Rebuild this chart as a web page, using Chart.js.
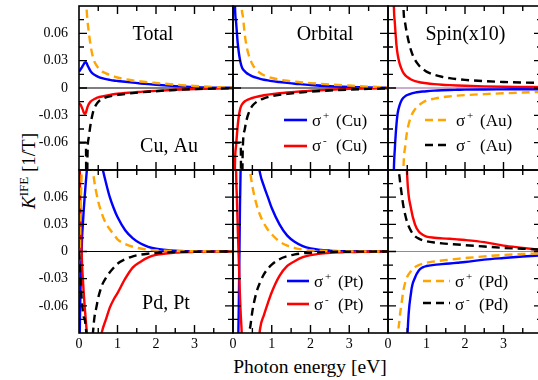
<!DOCTYPE html>
<html><head><meta charset="utf-8">
<script src="https://cdn.jsdelivr.net/npm/chart.js@4.4.1/dist/chart.umd.min.js"></script>
<style>
html,body{margin:0;padding:0;background:#fff;}
body{width:538px;height:380px;overflow:hidden;position:relative;font-family:'Liberation Serif','Times New Roman',serif;color:#000;}
canvas{position:absolute;}
#ytitle{position:absolute;left:19px;top:209px;transform-origin:0 0;transform:rotate(-90deg);white-space:nowrap;font-size:19px;line-height:19px;}
#ytitle .sup{font-size:13px;position:relative;top:-7px;}
#xtitle{position:absolute;left:210px;width:200px;top:357px;text-align:center;font-size:19.5px;line-height:19.5px;white-space:nowrap;}
</style></head>
<body>
<div id="ytitle"><i>K</i><span class="sup">IFE</span> [1/T]</div>
<div id="xtitle">Photon energy [eV]</div>
<script>
// ---------------- data ----------------
const energy = [0, 0.02, 0.05, 0.08, 0.1, 0.12, 0.15, 0.18, 0.2, 0.22, 0.25, 0.3, 0.35, 0.4, 0.45, 0.5, 0.6, 0.7, 0.8, 0.9, 1.0, 1.2, 1.4, 1.6, 1.8, 2.0, 2.5, 3.0, 3.5, 4.0];
const xTickValues = [0, 1, 2, 3];
const yTickValues = [-0.06, -0.03, 0, 0.03, 0.06];
const panelTitles = ['Total', 'Orbital', 'Spin(x10)'];
const rowLabels = ['Cu, Au', 'Pd, Pt'];
const legendMetals = [['', 'Cu', 'Au'], ['', 'Pt', 'Pd']];

// Top row: Cu (solid) and Au (dashed)
const totCuPlus  = [0.018,0.019,0.021,0.023,0.0245,0.026,0.0278,0.0283,0.027,0.025,0.0225,0.0185,0.016,0.0145,0.0133,0.0123,0.0108,0.0097,0.0089,0.0082,0.0077,0.0068,0.0059,0.005,0.0042,0.0035,0.002,0.0009,0.0004,0.0002];
const totCuMinus = [-0.0165,-0.0175,-0.019,-0.022,-0.024,-0.0265,-0.0284,-0.027,-0.024,-0.021,-0.018,-0.015,-0.0133,-0.012,-0.011,-0.0103,-0.0093,-0.0083,-0.0075,-0.0068,-0.0063,-0.0055,-0.0048,-0.0042,-0.0036,-0.0031,-0.002,-0.0011,-0.0005,-0.0002];
const totAuPlus  = [null,null,null,null,null,null,0.2,0.105,0.085,0.074,0.063,0.047,0.036,0.029,0.025,0.022,0.018,0.016,0.0143,0.0128,0.0115,0.0096,0.0083,0.0072,0.0063,0.0055,0.0037,0.0022,0.0011,0.0005];
const totAuMinus = [-0.06,-0.06,-0.06,-0.06,-0.06,-0.06,-0.06,-0.06,-0.2,-0.075,-0.055,-0.04,-0.029,-0.022,-0.018,-0.0152,-0.0122,-0.0104,-0.0092,-0.0083,-0.0076,-0.0065,-0.0056,-0.0048,-0.0041,-0.0035,-0.0022,-0.0012,-0.0006,-0.0003];

const orbCuPlus  = [null,0.2,0.092,0.072,0.061,0.05,0.039,0.031,0.027,0.024,0.021,0.0185,0.0165,0.015,0.0138,0.0128,0.0113,0.0101,0.0091,0.0083,0.0076,0.0066,0.0056,0.0047,0.004,0.0033,0.002,0.0011,0.0006,0.0003];
const orbCuMinus = [null,-0.2,-0.085,-0.063,-0.052,-0.042,-0.031,-0.024,-0.021,-0.019,-0.017,-0.0148,-0.0135,-0.0125,-0.0117,-0.011,-0.0098,-0.0088,-0.008,-0.0073,-0.0067,-0.0057,-0.0049,-0.0042,-0.0036,-0.003,-0.0019,-0.001,-0.0005,-0.0002];
const orbAuPlus  = [null,null,null,null,null,null,null,null,0.2,0.095,0.08,0.06,0.046,0.037,0.031,0.026,0.02,0.0165,0.014,0.0123,0.011,0.0092,0.0079,0.0069,0.0061,0.0054,0.0039,0.0027,0.0015,0.0007];
const orbAuMinus = [-0.06,-0.06,-0.06,-0.06,-0.06,-0.06,-0.06,-0.06,-0.06,-0.2,-0.07,-0.046,-0.035,-0.028,-0.023,-0.0195,-0.0155,-0.013,-0.0113,-0.01,-0.009,-0.0075,-0.0064,-0.0055,-0.0047,-0.004,-0.0027,-0.0017,-0.001,-0.0005];

const spinCuPlus  = [null,null,null,null,null,-0.2,-0.095,-0.065,-0.051,-0.04,-0.028,-0.019,-0.0138,-0.0108,-0.0089,-0.0077,-0.0061,-0.0051,-0.0044,-0.0039,-0.0035,-0.0029,-0.0025,-0.0022,-0.002,-0.0018,-0.0016,-0.0015,-0.0014,-0.0013];
const spinCuMinus = [null,null,null,null,null,0.2,0.095,0.07,0.058,0.047,0.037,0.027,0.021,0.0165,0.0138,0.012,0.0093,0.0076,0.0066,0.0058,0.0052,0.0043,0.0036,0.0031,0.0027,0.0024,0.0018,0.0014,0.0012,0.001];
const spinAuPlus  = [null,null,null,null,null,null,null,null,null,null,null,null,-0.2,-0.09,-0.063,-0.047,-0.031,-0.0235,-0.019,-0.016,-0.0138,-0.0117,-0.0102,-0.0092,-0.0084,-0.0078,-0.0067,-0.0058,-0.005,-0.0043];
const spinAuMinus = [null,null,null,null,null,null,null,null,null,null,null,null,0.2,0.09,0.07,0.058,0.041,0.031,0.025,0.021,0.018,0.0145,0.0123,0.0108,0.0097,0.0089,0.0075,0.0066,0.006,0.0055];

// Bottom row: Pt (solid) and Pd (dashed)
const totPtPlus  = [-0.2,-0.09,-0.025,0.015,0.03,0.044,0.062,0.078,0.088,0.097,0.11,0.125,0.133,0.135,0.128,0.117,0.094,0.076,0.06,0.048,0.038,0.0235,0.0145,0.0088,0.0052,0.003,0.0009,0.0003,0.0001,0];
const totPtMinus = [0.2,0.09,0.025,-0.015,-0.03,-0.044,-0.062,-0.078,-0.088,-0.097,-0.105,-0.118,-0.126,-0.128,-0.122,-0.11,-0.088,-0.075,-0.062,-0.053,-0.046,-0.03,-0.0175,-0.0112,-0.0065,-0.0038,-0.0012,-0.0004,-0.0001,0];
const totPdPlus  = [-0.01,0.005,0.06,0.1,0.12,0.135,0.15,0.16,0.165,0.165,0.16,0.135,0.095,0.077,0.065,0.055,0.041,0.031,0.0245,0.019,0.0135,0.0082,0.0052,0.0033,0.0021,0.0014,0.0006,0.0003,0.0002,0.0001];
const totPdMinus = [0,-0.015,-0.04,-0.058,-0.066,-0.072,-0.075,-0.085,-0.095,-0.1,-0.108,-0.11,-0.095,-0.073,-0.062,-0.051,-0.037,-0.029,-0.023,-0.018,-0.0135,-0.0085,-0.0053,-0.0035,-0.0024,-0.0016,-0.0006,-0.0003,-0.0001,0];

const orbPtPlus  = [null,null,null,null,-0.25,-0.14,-0.06,0.05,0.1,0.2,0.25,0.25,0.24,0.22,0.19,0.16,0.115,0.086,0.072,0.06,0.048,0.03,0.0175,0.0105,0.006,0.0035,0.001,0.0003,0.0001,0];
const orbPtMinus = [null,null,0.25,0.09,0.06,0.03,-0.01,-0.05,-0.07,-0.085,-0.12,-0.2,-0.22,-0.22,-0.2,-0.18,-0.13,-0.085,-0.07,-0.057,-0.045,-0.027,-0.016,-0.0105,-0.0063,-0.004,-0.0015,-0.0006,-0.0002,0];
const orbPdPlus  = [null,null,null,null,null,null,null,null,null,null,null,null,0.2,0.1,0.085,0.072,0.053,0.04,0.031,0.024,0.019,0.011,0.0065,0.0038,0.0022,0.0013,0.0005,0.0002,0.0001,0];
const orbPdMinus = [null,null,null,null,null,null,null,null,null,null,null,null,-0.2,-0.1,-0.082,-0.066,-0.046,-0.034,-0.025,-0.019,-0.0145,-0.0085,-0.0052,-0.0032,-0.002,-0.0013,-0.0005,-0.0002,-0.0001,0];

const spinPtPlus  = [null,null,null,null,null,null,null,null,null,null,null,null,null,null,-0.2,-0.1,-0.045,-0.029,-0.021,-0.0175,-0.016,-0.0148,-0.014,-0.0132,-0.0124,-0.0116,-0.009,-0.0072,-0.0056,-0.0042];
const spinPtMinus = [null,null,null,null,null,null,null,null,null,null,null,null,null,null,0.15,0.082,0.047,0.03,0.022,0.0185,0.0165,0.0152,0.0145,0.014,0.0134,0.0127,0.0103,0.0065,0.004,0.0015];
const spinPdPlus  = [null,null,null,null,null,null,null,null,null,-0.2,-0.11,-0.075,-0.058,-0.043,-0.034,-0.028,-0.0215,-0.0172,-0.015,-0.0135,-0.0124,-0.011,-0.0099,-0.009,-0.0081,-0.0073,-0.0054,-0.0038,-0.0027,-0.0019];
const spinPdMinus = [null,null,null,null,null,null,null,null,null,0.2,0.11,0.082,0.065,0.05,0.04,0.032,0.0225,0.017,0.0142,0.0125,0.0113,0.0099,0.009,0.0083,0.0077,0.007,0.0055,0.004,0.003,0.002];

// --------------- styling / layout ---------------
const BLUE = '#0000ff', RED = '#ff0000', ORANGE = '#ffa500', BLACK = '#000000';
const FONT = "'Liberation Serif', 'Times New Roman', serif";
const COL_LEFT = [79, 233, 388];
const COL_W = [154, 155, 154];
const ROW_TOP = [6, 170];
const ROW_H = [164, 163];
const YW = 79, PT = 8, PR = 8, XH = 40;

const grid = [
  [[totCuPlus, totCuMinus, totAuPlus, totAuMinus], [orbCuPlus, orbCuMinus, orbAuPlus, orbAuMinus], [spinCuPlus, spinCuMinus, spinAuPlus, spinAuMinus]],
  [[totPtPlus, totPtMinus, totPdPlus, totPdMinus], [orbPtPlus, orbPtMinus, orbPdPlus, orbPdMinus], [spinPtPlus, spinPtMinus, spinPdPlus, spinPdMinus]]
];
const styles = [
  {color: BLUE, dash: []}, {color: RED, dash: []},
  {color: ORANGE, dash: [8, 5]}, {color: BLACK, dash: [8, 5]}
];

// legend placement (relative to chart area)
const legendPos = {
  '0,1': {x0: 51, x1: 74, tx: 79, ly: [114, 140], by: [120, 145], items: [0, 1]},
  '0,2': {x0: 37, x1: 63, tx: 68, ly: [114, 139], by: [120, 145], items: [2, 3]},
  '1,1': {x0: 54, x1: 76, tx: 81, ly: [111, 134], by: [117, 140], items: [0, 1]},
  '1,2': {x0: 35, x1: 62, tx: 67, ly: [111, 133], by: [117, 140], items: [2, 3]}
};
const labelPos = {
  '0,0': [{text: panelTitles[0], x: 74, y: 34}, {text: rowLabels[0], x: 90, y: 146}],
  '0,1': [{text: panelTitles[1], x: 92, y: 34}],
  '0,2': [{text: panelTitles[2], x: 77.5, y: 34}],
  '1,0': [{text: rowLabels[1], x: 87, y: 139}]
};

const framePlugin = {
  id: 'frame',
  beforeDatasetsDraw(chart, args, o) {
    const {ctx, chartArea: a} = chart;
    const y = chart.scales.y;
    ctx.save();
    ctx.strokeStyle = o.zeroColor; ctx.lineWidth = o.zeroWidth;
    const y0 = y.getPixelForValue(0);
    ctx.beginPath(); ctx.moveTo(a.left, y0); ctx.lineTo(a.right, y0); ctx.stroke();
    ctx.restore();
  },
  afterDatasetsDraw(chart, args, o) {
    const {ctx, chartArea: a} = chart;
    const xs = chart.scales.x, ys = chart.scales.y;
    ctx.save();
    ctx.strokeStyle = '#000'; ctx.lineWidth = 1.4; ctx.setLineDash([]);
    ctx.beginPath();
    for (let i = 1; i < 8; i++) {
      const px = xs.getPixelForValue(i * 0.5);
      const len = i % 2 === 0 ? 8 : 5;
      ctx.moveTo(px, a.bottom); ctx.lineTo(px, a.bottom - len);
      ctx.moveTo(px, a.top); ctx.lineTo(px, a.top + len);
    }
    for (let i = -5; i <= 5; i++) {
      const py = ys.getPixelForValue(i * 0.015);
      const len = i % 2 === 0 ? 8 : 5;
      ctx.moveTo(a.left, py); ctx.lineTo(a.left + len, py);
      ctx.moveTo(a.right, py); ctx.lineTo(a.right - len, py);
    }
    ctx.stroke();
    ctx.lineWidth = 1.6;
    ctx.strokeRect(a.left, a.top, a.right - a.left, a.bottom - a.top);

    // texts
    ctx.fillStyle = '#000';
    ctx.textBaseline = 'alphabetic';
    ctx.textAlign = 'center';
    ctx.font = '20px ' + FONT;
    (o.labels || []).forEach(l => ctx.fillText(l.text, a.left + l.x, a.top + l.y));

    const lg = o.legend;
    if (lg) {
      lg.items.forEach((si, k) => {
        const st = styles[si];
        ctx.strokeStyle = st.color; ctx.lineWidth = 2.6; ctx.setLineDash(st.dash);
        ctx.beginPath();
        ctx.moveTo(a.left + lg.x0, a.top + lg.ly[k]);
        ctx.lineTo(a.left + lg.x1, a.top + lg.ly[k]);
        ctx.stroke();
        ctx.setLineDash([]);
        ctx.textAlign = 'left';
        const tx = a.left + lg.tx, ty = a.top + lg.by[k];
        ctx.font = '17px ' + FONT;
        ctx.fillText('\u03C3', tx, ty);
        ctx.font = '11px ' + FONT;
        ctx.fillText(si % 2 === 0 ? '+' : '-', tx + 11, ty - 7);
        ctx.font = '17px ' + FONT;
        ctx.fillText('(' + o.metal + ')', tx + 24, ty);
      });
    }
    ctx.restore();
  }
};

function makePanel(r, c) {
  const cv = document.createElement('canvas');
  const W = YW + COL_W[c] + PR, H = PT + ROW_H[r] + XH;
  cv.width = W; cv.height = H;
  cv.style.width = W + 'px'; cv.style.height = H + 'px';
  cv.style.left = (COL_LEFT[c] - YW) + 'px';
  cv.style.top = (ROW_TOP[r] - PT) + 'px';
  document.body.appendChild(cv);
  const series = grid[r][c];
  // dashed series on top: dataset 0 is drawn last
  const order = [3, 2, 1, 0];
  const datasets = order.map(i => ({
    data: energy.map((e, j) => ({x: e, y: series[i][j]})),
    borderColor: styles[i].color,
    borderDash: styles[i].dash,
    borderWidth: 2.4,
    pointRadius: 0,
    fill: false,
    cubicInterpolationMode: 'monotone',
    spanGaps: false,
    clip: 0
  }));
  const key = r + ',' + c;
  new Chart(cv, {
    type: 'line',
    data: {datasets},
    plugins: [framePlugin],
    options: {
      responsive: false, animation: false, devicePixelRatio: 1,
      events: [],
      layout: {padding: {left: 0, right: PR, top: PT, bottom: 0}},
      plugins: {
        legend: {display: false}, tooltip: {enabled: false},
        frame: {
          zeroColor: c === 2 ? (r === 0 ? '#8a4a8a' : '#b86a6a') : '#000',
          zeroWidth: c === 2 ? 0.9 : 1.1,
          labels: labelPos[key],
          legend: legendPos[key],
          metal: legendMetals[r][c]
        }
      },
      scales: {
        x: {
          type: 'linear', min: 0, max: 4,
          afterFit(s) { s.height = XH; s.paddingLeft = 0; s.paddingRight = 0; },
          afterBuildTicks(s) { s.ticks = xTickValues.map(v => ({value: v})); },
          grid: {display: false, drawTicks: false}, border: {display: false},
          ticks: {display: r === 1, autoSkip: false, maxRotation: 0, padding: 3, color: '#000',
            font: {family: FONT, size: 14}, callback: v => String(v)}
        },
        y: {
          type: 'linear', min: -0.09, max: 0.09,
          afterFit(s) { s.width = YW; s.paddingTop = 0; s.paddingBottom = 0; },
          afterBuildTicks(s) { s.ticks = yTickValues.map(v => ({value: v})); },
          grid: {display: false, drawTicks: false}, border: {display: false},
          ticks: {display: c === 0, autoSkip: false, padding: 11, color: '#000',
            font: {family: FONT, size: 14},
            callback: v => Math.abs(v) < 1e-9 ? '0' : v.toFixed(2)}
        }
      }
    }
  });
}
for (let r = 0; r < 2; r++) for (let c = 0; c < 3; c++) makePanel(r, c);
</script>
</body></html>
